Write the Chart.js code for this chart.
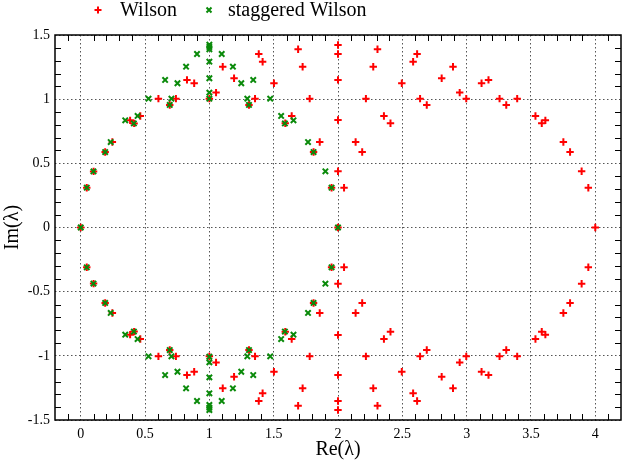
<!DOCTYPE html>
<html>
<head>
<meta charset="utf-8">
<script src="https://cdn.jsdelivr.net/npm/chart.js@4/dist/chart.umd.min.js"></script>
<style>
  html, body { margin: 0; padding: 0; background: #fff; }
  #wrap { width: 623px; height: 463px; }
</style>
</head>
<body>
<div id="wrap"><canvas id="c" width="623" height="463"></canvas></div>
<script>
// ---- data ----
const seriesNames = ['Wilson', 'staggered Wilson'];

const wilsonRe = [
  0, 0.047, 0.100, 0.190, 0.246, 0.384, 0.415, 0.463, 0.604, 0.692, 0.740, 0.826, 0.882,
  1.000, 1.052, 1.104, 1.192, 1.308, 1.355, 1.384, 1.414, 1.502, 1.590, 1.640, 1.690, 1.725,
  1.780, 1.810, 1.858, 1.950,
  2, 2, 2, 2, 2, 2,
  2.047, 2.137, 2.188, 2.217, 2.274, 2.307, 2.357, 2.408, 2.496, 2.584, 2.615, 2.638, 2.690,
  2.806, 2.894, 2.946, 2.997, 3.116, 3.170, 3.256, 3.308, 3.393, 3.535, 3.584, 3.612, 3.752,
  3.804, 3.894, 3.946, 4,
  // lower half
  0.047, 0.100, 0.190, 0.246, 0.384, 0.415, 0.463, 0.604, 0.692, 0.740, 0.826, 0.882,
  1.000, 1.052, 1.104, 1.192, 1.308, 1.355, 1.384, 1.414, 1.502, 1.590, 1.640, 1.690, 1.725,
  1.780, 1.810, 1.858, 1.950,
  2, 2, 2, 2, 2,
  2.047, 2.137, 2.188, 2.217, 2.274, 2.307, 2.357, 2.408, 2.496, 2.584, 2.615, 2.638, 2.690,
  2.806, 2.894, 2.946, 2.997, 3.116, 3.170, 3.256, 3.308, 3.393, 3.535, 3.584, 3.612, 3.752,
  3.804, 3.894, 3.946
];
const wilsonIm = [
  0, 0.310, 0.437, 0.588, 0.666, 0.835, 0.811, 0.869, 1.004, 0.955, 1.004, 1.150, 1.124,
  1.004, 1.051, 1.253, 1.163, 0.955, 1.004, 1.352, 1.292, 1.124, 0.812, 0.869, 1.389, 1.253,
  1.004, 0.588, 0.666, 0.310,
  0.438, 0.838, 1.150, 1.352, 1.422, 0,
  0.310, 0.666, 0.588, 1.004, 1.253, 1.389, 0.869, 0.812, 1.124, 1.292, 1.352, 1.004, 0.955,
  1.163, 1.253, 1.051, 1.004, 1.124, 1.150, 1.004, 0.955, 1.004, 0.869, 0.812, 0.835, 0.666,
  0.588, 0.438, 0.310, 0,
  // lower half
  -0.310, -0.437, -0.588, -0.666, -0.835, -0.811, -0.869, -1.004, -0.955, -1.004, -1.150, -1.124,
  -1.004, -1.051, -1.253, -1.163, -0.955, -1.004, -1.352, -1.292, -1.124, -0.812, -0.869, -1.389, -1.253,
  -1.004, -0.588, -0.666, -0.310,
  -0.438, -0.838, -1.150, -1.352, -1.422,
  -0.310, -0.666, -0.588, -1.004, -1.253, -1.389, -0.869, -0.812, -1.124, -1.292, -1.352, -1.004, -0.955,
  -1.163, -1.253, -1.051, -1.004, -1.124, -1.150, -1.004, -0.955, -1.004, -0.869, -0.812, -0.835, -0.666,
  -0.588, -0.438, -0.310
];

const stagRe = [
  0, 0.047, 0.099, 0.190, 0.233, 0.346, 0.413, 0.442, 0.527, 0.656, 0.692, 0.705, 0.752, 0.819, 0.904,
  1, 1, 1, 1, 1, 1, 1,
  1.096, 1.183, 1.248, 1.295, 1.308, 1.341, 1.473, 1.558, 1.587, 1.654, 1.767, 1.810, 1.902, 1.950, 2,
  // lower half
  0.047, 0.099, 0.190, 0.233, 0.346, 0.413, 0.442, 0.527, 0.656, 0.692, 0.705, 0.752, 0.819, 0.904,
  1, 1, 1, 1, 1, 1, 1,
  1.096, 1.183, 1.248, 1.295, 1.308, 1.341, 1.473, 1.558, 1.587, 1.654, 1.767, 1.810, 1.902, 1.950
];
const stagIm = [
  0, 0.310, 0.437, 0.588, 0.666, 0.835, 0.811, 0.869, 1.004, 1.150, 0.955, 1.004, 1.124, 1.253, 1.352,
  1.004, 1.051, 1.163, 1.292, 1.389, 1.407, 1.424,
  1.352, 1.253, 1.124, 1.004, 0.955, 1.150, 1.004, 0.869, 0.811, 0.835, 0.666, 0.588, 0.438, 0.310, 0,
  // lower half
  -0.310, -0.437, -0.588, -0.666, -0.835, -0.811, -0.869, -1.004, -1.150, -0.955, -1.004, -1.124, -1.253, -1.352,
  -1.007, -1.051, -1.168, -1.292, -1.383, -1.404, -1.422,
  -1.352, -1.253, -1.124, -1.004, -0.955, -1.150, -1.004, -0.869, -0.811, -0.835, -0.666, -0.588, -0.438, -0.310
];

const xTickValues = [0, 0.5, 1, 1.5, 2, 2.5, 3, 3.5, 4];
const yTickValues = [-1.5, -1, -0.5, 0, 0.5, 1, 1.5];
const xTitle = 'Re(λ)';
const yTitle = 'Im(λ)';

// ---- build ----
const toPoints = (xs, ys) => xs.map((x, i) => ({ x: x, y: ys[i] }));
const RED = '#ff0000';
const GREEN = '#0a8a0a';
const FONT = '"Liberation Serif", "Times New Roman", serif';

const framePlugin = {
  id: 'frame',
  beforeDatasetsDraw(chart) {
    const { ctx, chartArea: a, scales } = chart;
    const xs = scales.x, ys = scales.y;
    ctx.save();
    ctx.strokeStyle = '#000';
    ctx.lineWidth = 1;
    ctx.beginPath();
    for (let k = -2; k <= 42; k++) {
      if (k % 5 === 0) continue;
      const px = Math.round(xs.getPixelForValue(k / 10)) + 0.5;
      if (px <= a.left + 1 || px >= a.right - 1) continue;
      ctx.moveTo(px, a.bottom); ctx.lineTo(px, a.bottom - 6);
      ctx.moveTo(px, a.top); ctx.lineTo(px, a.top + 6);
    }
    for (let k = -15; k <= 15; k++) {
      if (k % 5 === 0) continue;
      const py = Math.round(ys.getPixelForValue(k / 10)) + 0.5;
      ctx.moveTo(a.left, py); ctx.lineTo(a.left + 6, py);
      ctx.moveTo(a.right, py); ctx.lineTo(a.right - 6, py);
    }
    ctx.stroke();
    ctx.lineWidth = 1.5;
    ctx.strokeRect(a.left, a.top, a.right - a.left, a.bottom - a.top);
    ctx.restore();
  },
  afterDraw(chart) {
    const { ctx } = chart;
    const ds = chart.data.datasets;
    ctx.save();
    ctx.font = '20px ' + FONT;
    ctx.fillStyle = '#000';
    ctx.textBaseline = 'middle';
    ctx.textAlign = 'left';
    // Wilson marker (+)
    ctx.lineWidth = 2;
    ctx.strokeStyle = RED;
    ctx.beginPath();
    ctx.moveTo(94.5, 10); ctx.lineTo(101.5, 10);
    ctx.moveTo(98, 6.5); ctx.lineTo(98, 13.5);
    ctx.stroke();
    ctx.fillText(ds[1].label, 120, 11);
    // staggered marker (x)
    ctx.strokeStyle = GREEN;
    ctx.beginPath();
    ctx.moveTo(206.5, 7.5); ctx.lineTo(211.5, 12.5);
    ctx.moveTo(211.5, 7.5); ctx.lineTo(206.5, 12.5);
    ctx.stroke();
    ctx.fillText(ds[0].label, 228, 11);
    ctx.restore();
  }
};

new Chart(document.getElementById('c'), {
  type: 'scatter',
  data: {
    datasets: [
      {
        label: seriesNames[1],
        data: toPoints(stagRe, stagIm),
        pointStyle: 'crossRot',
        pointRadius: 3.8,
        pointHoverRadius: 3.8,
        borderColor: GREEN,
        backgroundColor: GREEN,
        pointBorderWidth: 2,
        order: 1
      },
      {
        label: seriesNames[0],
        data: toPoints(wilsonRe, wilsonIm),
        pointStyle: 'cross',
        pointRadius: 3.7,
        pointHoverRadius: 3.7,
        borderColor: RED,
        backgroundColor: RED,
        pointBorderWidth: 2,
        order: 2
      }
    ]
  },
  options: {
    responsive: false,
    animation: false,
    events: [],
    layout: { autoPadding: false, padding: { top: 35, right: 2, left: 0, bottom: 0 } },
    plugins: {
      legend: { display: false },
      tooltip: { enabled: false }
    },
    scales: {
      x: {
        type: 'linear',
        min: -0.2,
        max: 4.2,
        afterBuildTicks: (s) => { s.ticks = xTickValues.map(v => ({ value: v })); },
        afterFit: (s) => { s.height = 43; s.paddingLeft = 0; s.paddingRight = 0; },
        ticks: {
          autoSkip: false,
          maxRotation: 0,
          padding: 6,
          color: '#000',
          font: { family: FONT, size: 14 },
          callback: (v) => String(v)
        },
        grid: { color: '#555', lineWidth: 1, drawTicks: false },
        border: { display: false, dash: [1.5, 2.5] },
        title: {
          display: true,
          text: xTitle,
          color: '#000',
          font: { family: FONT, size: 20 },
          padding: { top: 0, bottom: 1 }
        }
      },
      y: {
        type: 'linear',
        min: -1.5,
        max: 1.5,
        afterBuildTicks: (s) => { s.ticks = yTickValues.map(v => ({ value: v })); },
        afterFit: (s) => { s.width = 55; s.paddingTop = 0; s.paddingBottom = 0; },
        ticks: {
          autoSkip: false,
          padding: 5,
          color: '#000',
          font: { family: FONT, size: 14 },
          callback: (v) => String(v)
        },
        grid: { color: '#555', lineWidth: 1, drawTicks: false },
        border: { display: false, dash: [1.5, 2.5] },
        title: {
          display: true,
          text: yTitle,
          color: '#000',
          font: { family: FONT, size: 20 },
          padding: { top: 1, bottom: 0 }
        }
      }
    }
  },
  plugins: [framePlugin]
});
</script>
</body>
</html>
